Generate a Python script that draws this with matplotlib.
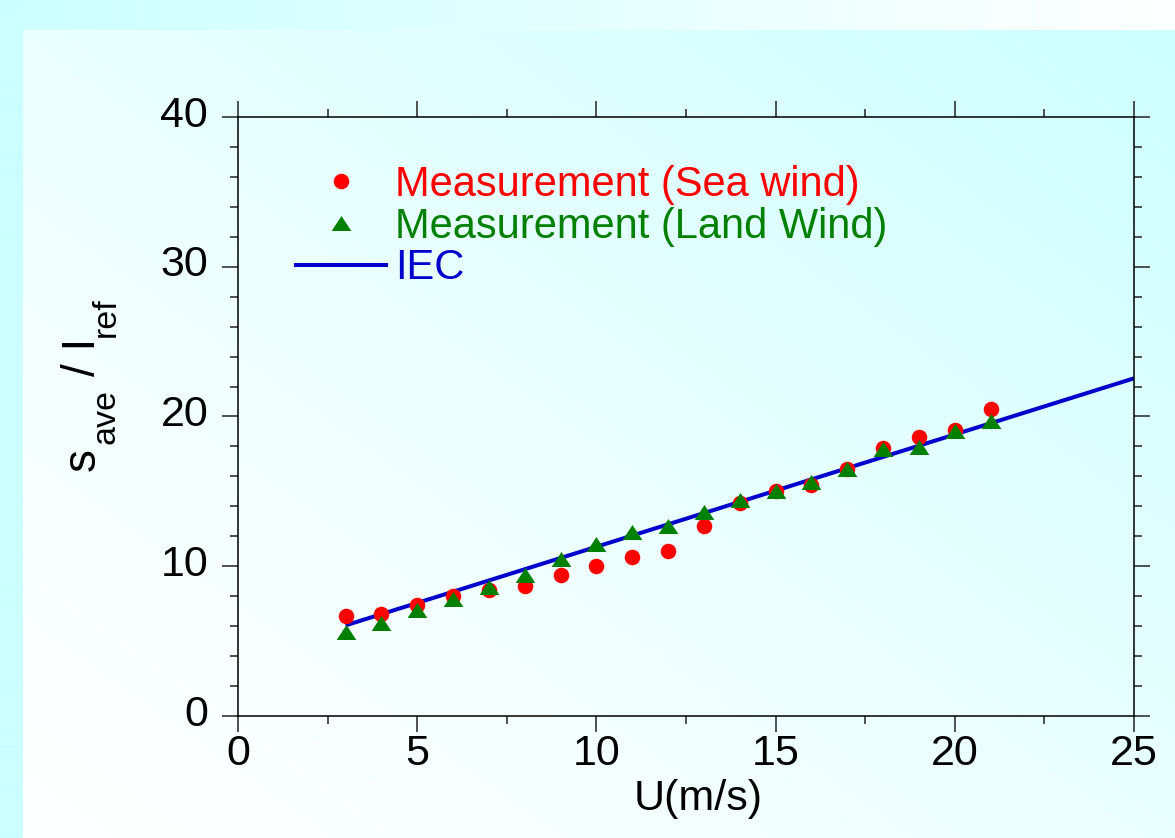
import numpy as np
import matplotlib
matplotlib.use("Agg")
import matplotlib.pyplot as plt
from matplotlib.lines import Line2D
from matplotlib.ticker import MultipleLocator
import matplotlib.transforms as mtrans

# ---------------- data ----------------
wind_speed = [3, 4, 5, 6, 7, 8, 9, 10, 11, 12, 13, 14, 15, 16, 17, 18, 19, 20, 21]
sea_wind = [6.7, 6.8, 7.4, 8.0, 8.4, 8.7, 9.4, 10.0, 10.6, 11.0, 12.7, 14.2,
            15.0, 15.4, 16.5, 17.9, 18.6, 19.1, 20.5]
land_wind = [5.6, 6.2, 7.1, 7.8, 8.6, 9.4, 10.5, 11.5, 12.3, 12.7, 13.6, 14.4,
             15.0, 15.6, 16.5, 17.85, 17.95, 19.0, 19.7]
iec_speed = [3, 25]
iec_value = [6.05, 22.55]

labels = ["Measurement (Sea wind)", "Measurement (Land Wind)", "IEC"]
x_ticks = [0, 5, 10, 15, 20, 25]
y_ticks = [0, 10, 20, 30, 40]
x_label = "U(m/s)"
y_label_parts = ["s", "ave", "/ I", "ref"]

plt.rcParams["font.family"] = ["Liberation Sans", "DejaVu Sans"]

W, H = 1175, 838
fig = plt.figure(figsize=(W / 100, H / 100), dpi=100)

# ---------------- background gradient ----------------
bg = fig.add_axes([0, 0, 1, 1], zorder=-10)
bg.set_axis_off()
cyan = np.array([0xCC, 0xFF, 0xFF]) / 255.0
white = np.array([1.0, 1.0, 1.0])
xx, yy = np.meshgrid(np.linspace(0, 1, W), np.linspace(0, 1, H))
t = np.clip((xx + (1 - yy)) / 2.0, 0, 1) ** 1.3
img = white[None, None, :] * (1 - t[..., None]) + cyan[None, None, :] * t[..., None]
top_rows = 31
tt = (1 - xx[:top_rows])[..., None]
img[:top_rows] = white * (1 - tt) + cyan * tt
img[:, :23] = cyan
bg.imshow(img, extent=[0, 1, 0, 1], aspect="auto", origin="upper")
bg.set_xlim(0, 1)
bg.set_ylim(0, 1)

# ---------------- main axes ----------------
left, right, top, bottom = 238, 1134, 117, 716
ax = fig.add_axes([left / W, 1 - bottom / H, (right - left) / W, (bottom - top) / H])
ax.patch.set_alpha(0)

tri = [(-1, -0.76), (1, -0.76), (0, 0.76)]

ax.plot(iec_speed, iec_value, color="#0000CC", lw=2.9, solid_capstyle="butt", zorder=2)
ax.plot(wind_speed, sea_wind, ls="none", marker="o", ms=11.2, color="#FF0000",
        markeredgewidth=0, zorder=3)
ax.plot(wind_speed, land_wind, ls="none", marker=tri, ms=14.2, color="#008000",
        markeredgewidth=0, zorder=4)

ax.set_xlim(0, 25)
ax.set_ylim(0, 40)
ax.set_xticks(x_ticks)
ax.set_yticks(y_ticks)
ax.xaxis.set_minor_locator(MultipleLocator(2.5))
ax.yaxis.set_minor_locator(MultipleLocator(2))
ax.tick_params(which="both", direction="out", top=True, right=True,
               labeltop=False, labelright=False, color="#222222", width=1.1)
ax.tick_params(which="major", length=11.5, labelsize=31)
ax.tick_params(axis="x", which="major", pad=1.5)
ax.tick_params(axis="y", which="major", pad=10)
ax.tick_params(which="minor", length=5.8)
for s in ax.spines.values():
    s.set_linewidth(1.1)
    s.set_color("black")

# y tick labels sit slightly above their ticks in the reference
off = mtrans.ScaledTranslation(0, 4.3 / 72, fig.dpi_scale_trans)
for lab in ax.get_yticklabels():
    lab.set_transform(lab.get_transform() + off)

ax.set_xlabel(x_label, fontsize=31)
ax.xaxis.set_label_coords((698 - left) / (right - left), -0.105)

# y label built from pieces (large subscripts, rotated)
def px(x, y):
    return x / W, 1 - y / H

piece_pos = [(95, 471, 33), (115, 444, 24.5), (95, 376, 33), (115, 337, 24.5)]
for txt, (xp, yp, fs) in zip(y_label_parts, piece_pos):
    fx, fy = px(xp, yp)
    fig.text(fx, fy, txt, rotation=90, rotation_mode="anchor", ha="left",
             va="baseline", fontsize=fs, color="black")

handles = [
    Line2D([], [], ls="none", marker="o", ms=11.2, color="#FF0000", markeredgewidth=0),
    Line2D([], [], ls="none", marker=tri, ms=14.2, color="#008000", markeredgewidth=0),
    Line2D([], [], color="#0000CC", lw=2.9),
]
leg = ax.legend(handles, labels, loc="upper left",
                bbox_to_anchor=(296 / W, 1 - 165 / H), bbox_transform=fig.transFigure,
                frameon=False, fontsize=30, handlelength=2.15, handletextpad=0.22,
                labelspacing=0.04, borderpad=0, borderaxespad=0)
for txt, c in zip(leg.get_texts(), ["#FF0000", "#008000", "#0000CC"]):
    txt.set_color(c)

fig.savefig("out.png", dpi=100)
